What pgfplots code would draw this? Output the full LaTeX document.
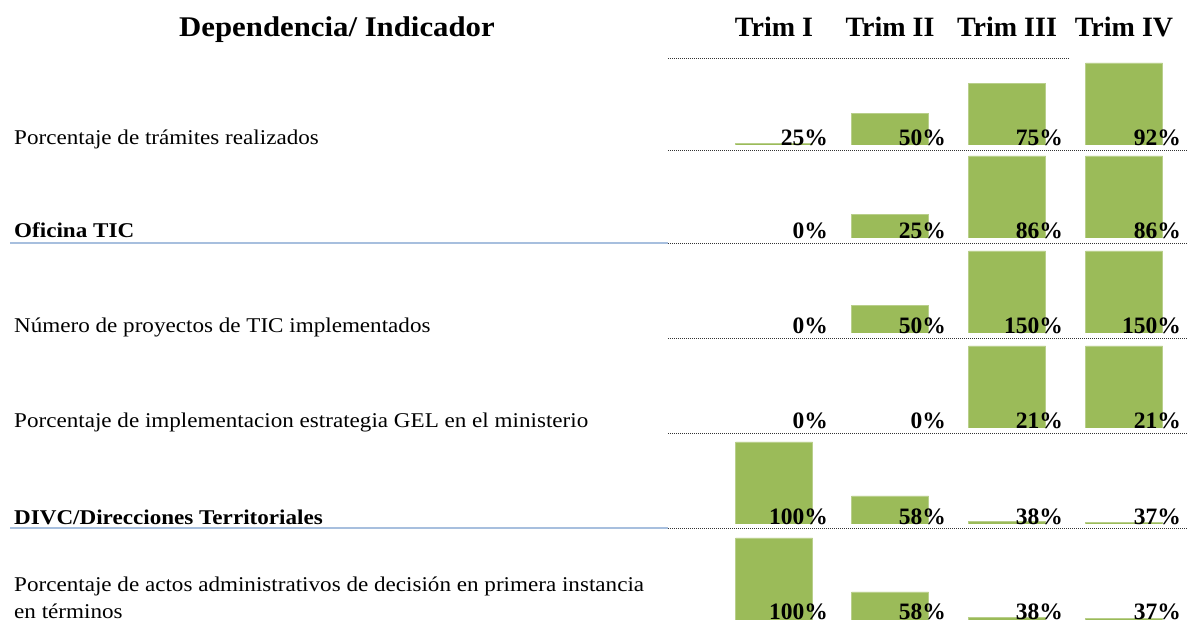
\documentclass[border=0pt]{standalone}
\usepackage{pgfplots}
\pgfplotsset{compat=1.18}
\usepackage{fontspec}
\setmainfont{Liberation Serif}
\newfontfamily\lblfont{Liberation Serif}[FakeStretch=1.1]
\newfontfamily\hdrfont{Liberation Serif}[FakeStretch=1.08]
\definecolor{barg}{HTML}{9BBB59}
\definecolor{blueline}{HTML}{A7BFDE}
\begin{document}
\begin{tikzpicture}
\useasboundingbox (0pt,0pt) rectangle (1188pt,623pt);
\pgfplotsset{rowax/.style={scale only axis, width=1188pt, height=82pt,
  xmin=0, xmax=1188, hide axis, anchor=south west, ybar, bar width=77pt, clip=true}}
\tikzset{bars/.style={fill=barg, draw=barg!70!white, line width=0.6pt}}
% Row 1
\begin{axis}[rowax, at={(0pt,478pt)}, ymin=24, ymax=92]
\addplot[bars] coordinates {(774,25) (890,50) (1007,75) (1124,92)};
\end{axis}
% Row 2
\begin{axis}[rowax, at={(0pt,385pt)}, ymin=0, ymax=86]
\addplot[bars] coordinates {(890,25) (1007,86) (1124,86)};
\end{axis}
% Row 3
\begin{axis}[rowax, at={(0pt,290pt)}, ymin=0, ymax=150]
\addplot[bars] coordinates {(890,50) (1007,150) (1124,150)};
\end{axis}
% Row 4
\begin{axis}[rowax, at={(0pt,195pt)}, ymin=0, ymax=21]
\addplot[bars] coordinates {(1007,21) (1124,21)};
\end{axis}
% Row 5
\begin{axis}[rowax, at={(0pt,99pt)}, ymin=36, ymax=100]
\addplot[bars] coordinates {(774,100) (890,58) (1007,38) (1124,37)};
\end{axis}
% Row 6
\begin{axis}[rowax, at={(0pt,3pt)}, ymin=36, ymax=100]
\addplot[bars] coordinates {(774,100) (890,58) (1007,38) (1124,37)};
\end{axis}
% lines
\tikzset{dl/.style={line width=0.9pt, dash pattern=on 1pt off 1pt, black!80}}
\draw[dl] (668pt,565pt) -- (1070pt,565pt);
\foreach \yy in {150,243,338,433,528} {\draw[dl] (668pt,623pt-\yy pt) -- (1188pt,623pt-\yy pt);}
\draw[blueline, line width=1.2pt] (10pt,380pt) -- (668pt,380pt);
\draw[blueline, line width=1.2pt] (10pt,95pt) -- (668pt,95pt);
% header
\node[anchor=base, font=\hdrfont\fontsize{28.5}{32}\selectfont\bfseries] at (337pt,586pt) {Dependencia/ Indicador};
\foreach \xx/\tt in {774/Trim I, 890/Trim II, 1007/Trim III, 1124/Trim IV}
  {\node[anchor=base, font=\fontsize{28}{32}\selectfont\bfseries] at (\xx pt,586pt) {\tt};}
% row labels
\tikzset{rl/.style={anchor=base west, inner sep=0pt, font=\lblfont\fontsize{21}{25}\selectfont}}
\node[rl] at (14pt,478pt) {Porcentaje de trámites realizados};
\node[rl, font=\lblfont\fontsize{21}{25}\selectfont\bfseries] at (14pt,385pt) {Oficina TIC};
\node[rl] at (14pt,290pt) {Número de proyectos de TIC implementados};
\node[rl] at (14pt,195pt) {Porcentaje de implementacion estrategia GEL en el ministerio};
\node[rl, font=\lblfont\fontsize{21}{25}\selectfont\bfseries] at (14pt,98pt) {DIVC/Direcciones Territoriales};
\node[rl] at (14pt,31pt) {Porcentaje de actos administrativos de decisión en primera instancia};
\node[rl] at (14pt,4pt) {en términos};
% percentages
\tikzset{pl/.style={anchor=base east, inner sep=0pt, font=\fontsize{23.5}{27}\selectfont\bfseries}}
\foreach \yy/\a/\b/\c/\d in {477/25/50/75/92, 384/0/25/86/86, 289/0/50/150/150, 194/0/0/21/21, 98/100/58/38/37, 3/100/58/38/37}{
  \node[pl] at (828pt,\yy pt) {\a\%};
  \node[pl] at (946pt,\yy pt) {\b\%};
  \node[pl] at (1063pt,\yy pt) {\c\%};
  \node[pl] at (1181pt,\yy pt) {\d\%};
}
\end{tikzpicture}
\end{document}
